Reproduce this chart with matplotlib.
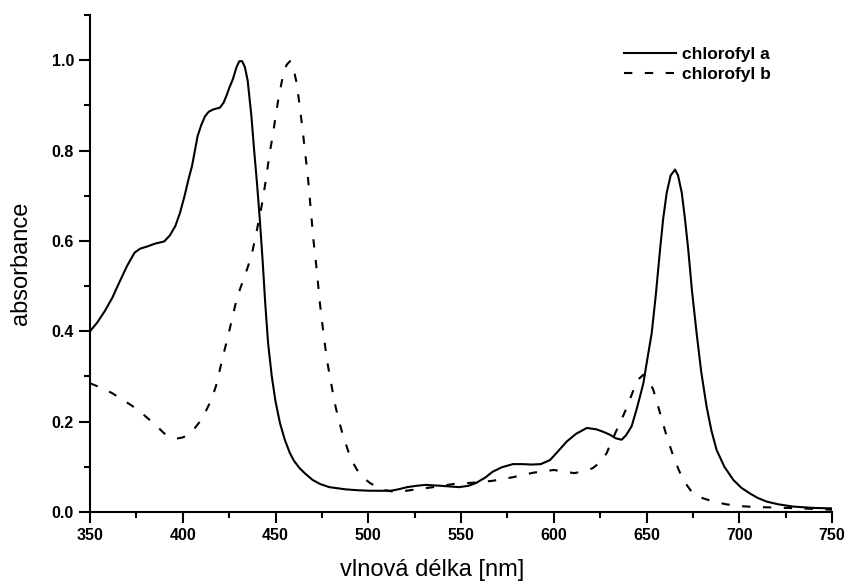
import matplotlib
matplotlib.use('Agg')
import matplotlib.pyplot as plt
from matplotlib.ticker import MultipleLocator

plt.rcParams['font.family'] = ['Liberation Sans', 'DejaVu Sans']

# chlorofyl a (solid)
wl_a = [350, 354, 358, 362, 366, 370, 374, 377, 381, 385, 390, 393, 396, 398.5,
        401, 403, 405, 408, 410, 412, 414, 416.3, 418, 420, 422, 423.5, 425,
        427, 429, 430.5, 432, 433.5, 435, 437, 438.5, 440, 441.5, 443, 444.5,
        446, 448, 450, 452.4, 455, 457.8, 460, 463, 466, 470, 474, 479, 488,
        495, 501, 512, 516, 521, 526, 531, 539, 549, 554, 558, 563, 567, 572,
        578, 583, 588, 593, 598, 602, 607, 612, 617.8, 623, 627, 630.3, 633.5,
        636.6, 639, 642, 644.5, 646.5, 648.3, 650.5, 652.8, 655, 657.3, 659,
        660.9, 663, 665.4, 667, 669, 670.7, 672.5, 674.5, 677, 679.5, 682.4,
        685, 687.8, 692, 696.8, 701, 705.7, 710, 714.8, 721, 729, 740, 750]
abs_a = [0.40, 0.42, 0.445, 0.474, 0.51, 0.545, 0.574, 0.583, 0.588, 0.594,
         0.599, 0.612, 0.633, 0.662, 0.70, 0.735, 0.766, 0.832, 0.857, 0.876,
         0.886, 0.891, 0.893, 0.895, 0.906, 0.921, 0.938, 0.958, 0.985, 0.998,
         0.998, 0.985, 0.955, 0.877, 0.80, 0.729, 0.65, 0.56, 0.46, 0.374, 0.30,
         0.245, 0.197, 0.16, 0.130, 0.113, 0.097, 0.085, 0.071, 0.062, 0.055,
         0.050, 0.048, 0.047, 0.047, 0.050, 0.055, 0.058, 0.060, 0.058, 0.055,
         0.058, 0.064, 0.076, 0.089, 0.099, 0.106, 0.106, 0.105, 0.106, 0.115,
         0.133, 0.156, 0.173, 0.186, 0.183, 0.177, 0.171, 0.163, 0.160, 0.170,
         0.190, 0.225, 0.256, 0.285, 0.34, 0.396, 0.48, 0.581, 0.65, 0.707,
         0.745, 0.758, 0.745, 0.707, 0.65, 0.581, 0.49, 0.396, 0.31, 0.233,
         0.18, 0.137, 0.10, 0.071, 0.054, 0.041, 0.031, 0.023, 0.017, 0.012,
         0.009, 0.008]

# chlorofyl b (dashed)
wl_b = [350, 356, 362, 367, 372, 377, 381, 386, 390, 394, 397.4, 400, 403, 406,
        410, 413, 415.4, 418, 420, 422, 424.4, 427, 429, 431, 433.4, 435.5, 437,
        438.5, 440, 442, 443.4, 445, 446.1, 447.5, 448.8, 450, 451.5, 453,
        454.2, 456, 457.8, 459.5, 461.4, 463, 464.5, 466, 467.5, 469, 470.5,
        472, 474, 476, 478, 480, 482, 484, 486, 489, 491, 494, 497, 501, 505,
        508, 512, 517, 524, 535, 546, 557, 567, 578, 589, 600, 605, 611, 616,
        621, 625, 628.5, 631, 634, 638.4, 643, 646, 648.3, 650.5, 652, 653.7,
        657.3, 660.9, 664.5, 667, 669, 672, 675, 680, 686, 693, 700, 709, 718,
        733, 750]
abs_b = [0.285, 0.275, 0.263, 0.25, 0.237, 0.222, 0.208, 0.19, 0.174, 0.165,
         0.163, 0.165, 0.171, 0.183, 0.204, 0.228, 0.248, 0.28, 0.315, 0.35,
         0.389, 0.435, 0.47, 0.495, 0.522, 0.548, 0.566, 0.595, 0.625, 0.665,
         0.699, 0.74, 0.773, 0.81, 0.84, 0.875, 0.913, 0.945, 0.969, 0.99,
         0.998, 0.985, 0.95, 0.90, 0.85, 0.795, 0.74, 0.67, 0.60, 0.545, 0.46,
         0.39, 0.33, 0.285, 0.24, 0.205, 0.175, 0.137, 0.115, 0.093, 0.077,
         0.064, 0.055, 0.049, 0.046, 0.045, 0.049, 0.055, 0.062, 0.065, 0.069,
         0.077, 0.087, 0.093, 0.090, 0.086, 0.090, 0.097, 0.11, 0.13, 0.155,
         0.182, 0.222, 0.27, 0.295, 0.304, 0.295, 0.285, 0.27, 0.219, 0.167,
         0.123, 0.097, 0.078, 0.058, 0.041, 0.031, 0.023, 0.017, 0.013, 0.011,
         0.010, 0.008, 0.005]

fig = plt.figure(figsize=(8.49, 5.82), dpi=100)
ax = fig.add_axes([0.106, 0.1203, 0.874, 0.8537])

ax.plot(wl_a, abs_a, color='black', lw=1.5, label='chlorofyl a')
ax.plot(wl_b, abs_b, color='black', lw=1.5, dashes=(4, 6), label='chlorofyl b')

ax.set_xlim(350, 750)
ax.set_ylim(0, 1.1)
ax.xaxis.set_major_locator(MultipleLocator(50))
ax.xaxis.set_minor_locator(MultipleLocator(25))
ax.yaxis.set_major_locator(MultipleLocator(0.2))
ax.yaxis.set_minor_locator(MultipleLocator(0.1))
ax.yaxis.set_major_formatter(plt.FormatStrFormatter('%.1f'))

for s in ['top', 'right']:
    ax.spines[s].set_visible(False)
for s in ['left', 'bottom']:
    ax.spines[s].set_linewidth(1.5)

ax.tick_params(which='major', direction='out', length=8, width=1.5, labelsize=11.5)
ax.tick_params(which='minor', direction='out', length=4, width=1.5)
for lbl in ax.get_xticklabels() + ax.get_yticklabels():
    lbl.set_fontweight('bold')

ax.set_xlabel('vlnová délka [nm]', fontsize=17)
ax.xaxis.set_label_coords(0.461, -0.095)
ax.set_ylabel('absorbance', fontsize=17, labelpad=14)

leg = ax.legend(loc='upper right', bbox_to_anchor=(0.938, 0.967), frameon=False,
                handlelength=3.0, handletextpad=0.3, labelspacing=0.25,
                prop={'weight': 'bold', 'size': 12.5})

plt.savefig('out.png', dpi=100)
